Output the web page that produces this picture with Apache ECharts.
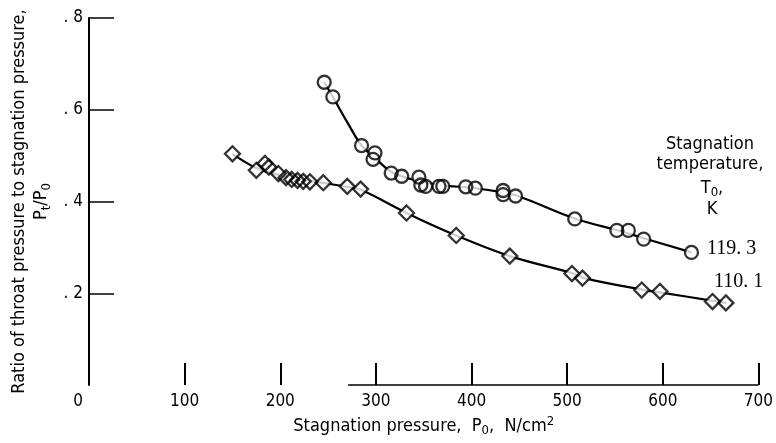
<!DOCTYPE html>
<html>
<head>
<meta charset="utf-8">
<script src="https://cdn.jsdelivr.net/npm/echarts@6/dist/echarts.min.js"></script>
<style>
  html, body { margin: 0; padding: 0; background: #fff; }
  #chart { width: 776px; height: 443px; }
</style>
</head>
<body>
<div id="chart"></div>
<script>
// Stagnation temperature 119.3 K (circles)
const circlePressure = [246, 255, 285, 299, 297, 316, 327, 345, 347, 352, 366, 370, 394, 404, 433, 433, 446, 508, 552, 564, 580, 630];
const circleRatio    = [0.660, 0.628, 0.522, 0.506, 0.492, 0.462, 0.455, 0.453, 0.436, 0.433, 0.433, 0.433, 0.432, 0.429, 0.424, 0.415, 0.412, 0.362, 0.337, 0.337, 0.318, 0.289];

// Stagnation temperature 110.1 K (diamonds)
const diamondPressure = [150, 175, 184, 188, 198, 206, 212, 218, 224, 231, 245, 270, 284, 332, 384, 440, 505, 516, 578, 597, 652, 666];
const diamondRatio    = [0.504, 0.468, 0.483, 0.475, 0.461, 0.452, 0.448, 0.446, 0.444, 0.443, 0.441, 0.433, 0.427, 0.375, 0.326, 0.281, 0.243, 0.233, 0.207, 0.204, 0.182, 0.179];

// Faired curves through each data set
const curve119Pressure = [246, 255, 270, 285, 298, 316, 340, 370, 400, 430, 450, 508, 560, 580, 630];
const curve119Ratio    = [0.660, 0.628, 0.573, 0.522, 0.497, 0.465, 0.447, 0.435, 0.430, 0.421, 0.411, 0.363, 0.333, 0.320, 0.289];
const curve110Pressure = [150, 175, 200, 230, 250, 270, 285, 333, 384, 440, 505, 520, 578, 600, 666];
const curve110Ratio    = [0.504, 0.473, 0.457, 0.445, 0.439, 0.432, 0.425, 0.374, 0.326, 0.281, 0.244, 0.232, 0.208, 0.201, 0.179];

// Axis ticks and labels
const xLabelValues = [0, 100, 200, 300, 400, 500, 600, 700];
const xTickValues  = [100, 200, 300, 400, 500, 600, 700];
const yTickValues  = [0.2, 0.4, 0.6, 0.8];
// visible stretch of the pressure baseline
const baselineSpan = [271, 700];

const seriesLabels = ['119. 3', '110. 1'];

const zip = (a, b) => a.map((v, i) => [v, b[i]]);
const FONT = '"DejaVu Sans Condensed", "DejaVu Sans", sans-serif';

const chart = echarts.init(document.getElementById('chart'), null, { renderer: 'canvas' });

const subRich = {
  t: { fontFamily: FONT, fontSize: 18, color: '#000', lineHeight: 22 },
  sub: { fontFamily: FONT, fontSize: 13, color: '#000', verticalAlign: 'bottom', padding: [7, 0, 0, 0], lineHeight: 22 },
  sup: { fontFamily: FONT, fontSize: 13, color: '#000', verticalAlign: 'top', padding: [0, 0, 7, 0], lineHeight: 22 }
};

const markerOutline = (name, data, symbol, size) => ([
  {
    name: name + '-fill', type: 'scatter', data, symbol, symbolSize: size, z: 3,
    itemStyle: { color: '#fff', borderWidth: 0 }, silent: true
  },
  {
    name, type: 'scatter', data, symbol, symbolSize: size, z: 4,
    itemStyle: { color: 'rgba(0,0,0,0)', borderColor: '#000', borderWidth: 2.3 }, silent: true
  }
]);

const option = {
  backgroundColor: '#fff',
  animation: false,
  grid: { left: 89, right: 13.5, top: 18, bottom: 58, containLabel: false },
  xAxis: {
    type: 'value', min: 0, max: 700, interval: 100,
    axisLine: { show: false },
    splitLine: { show: false },
    axisTick: { show: true, inside: true, length: 22, customValues: xTickValues, lineStyle: { color: '#000', width: 2 } },
    axisLabel: {
      customValues: xLabelValues, margin: 8, color: '#000', fontFamily: FONT, fontSize: 17,
      formatter: v => v === 0 ? '{z|0}' : String(v),
      rich: { z: { fontFamily: FONT, fontSize: 17, color: '#000', padding: [0, 22, 0, 0] } }
    },
    name: '{t|Stagnation pressure,  P}{sub|0}{t|,  N/cm}{sup|2}',
    nameLocation: 'middle', nameGap: 27,
    nameTextStyle: { rich: subRich }
  },
  yAxis: {
    type: 'value', min: 0, max: 0.8, interval: 0.2,
    axisLine: { show: true, lineStyle: { color: '#000', width: 2 } },
    splitLine: { show: false },
    axisTick: { show: true, inside: true, length: 25, customValues: yTickValues, lineStyle: { color: '#000', width: 1.5 } },
    axisLabel: {
      customValues: yTickValues, margin: 6, color: '#000', fontFamily: FONT, fontSize: 17,
      formatter: v => String(+v.toFixed(1)).replace(/^0\./, '. ')
    },
    name: '{t|Ratio of throat pressure to stagnation pressure,}\n{t|P}{sub|t}{t|/P}{sub|0}',
    nameLocation: 'middle', nameGap: 36,
    nameTextStyle: { rich: subRich }
  },
  series: [
    {
      name: 'curve 119.3', type: 'line', data: zip(curve119Pressure, curve119Ratio),
      smooth: 0.35, showSymbol: false, symbol: 'none', z: 2,
      lineStyle: { color: '#000', width: 2.2 }, silent: true
    },
    {
      name: 'curve 110.1', type: 'line', data: zip(curve110Pressure, curve110Ratio),
      smooth: 0.35, showSymbol: false, symbol: 'none', z: 2,
      lineStyle: { color: '#000', width: 2.2 }, silent: true,
      markLine: {
        silent: true, symbol: 'none', label: { show: false },
        lineStyle: { color: '#000', width: 1.5, type: 'solid' },
        data: [[{ coord: [baselineSpan[0], 0] }, { coord: [baselineSpan[1], 0] }]]
      }
    },
    ...markerOutline('T0 = 119.3 K', zip(circlePressure, circleRatio), 'circle', 13),
    ...markerOutline('T0 = 110.1 K', zip(diamondPressure, diamondRatio), 'diamond', 15)
  ],
  graphic: [
    {
      type: 'text', x: 710, y: 134,
      style: {
        text: 'Stagnation\ntemperature,', fontFamily: FONT, fontSize: 18, lineHeight: 20,
        fill: '#000', align: 'center'
      }
    },
    {
      type: 'text', x: 712, y: 188,
      style: {
        text: '{t|T}{sub|0}{t|,}', align: 'center', verticalAlign: 'middle',
        rich: subRich
      }
    },
    {
      type: 'text', x: 712, y: 209,
      style: { text: 'K', fontFamily: FONT, fontSize: 18, fill: '#000', align: 'center', verticalAlign: 'middle' }
    },
    {
      type: 'text', x: 707, y: 249,
      style: { text: seriesLabels[0], fontFamily: '"Liberation Serif", serif', fontSize: 20, fill: '#000', verticalAlign: 'middle' }
    },
    {
      type: 'text', x: 714, y: 282,
      style: { text: seriesLabels[1], fontFamily: '"Liberation Serif", serif', fontSize: 20, fill: '#000', verticalAlign: 'middle' }
    }
  ]
};

chart.setOption(option);
</script>
</body>
</html>
